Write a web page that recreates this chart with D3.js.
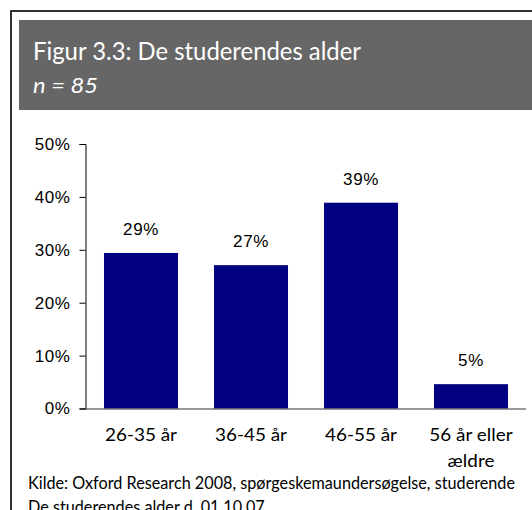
<!DOCTYPE html>
<html>
<head>
<meta charset="utf-8">
<script src="https://cdn.jsdelivr.net/npm/d3@7"></script>
<style>
  html, body { margin: 0; padding: 0; background: #ffffff; }
  svg { display: block; }
</style>
</head>
<body>
<svg id="chart" width="532" height="510"></svg>
<script>
// ---- data ----
const categories = ["26-35 år", "36-45 år", "46-55 år", "56 år eller ældre"];
const categoryLines = [["26-35 år"], ["36-45 år"], ["46-55 år"], ["56 år eller", "ældre"]];
const values = [29.4, 27.1, 38.9, 4.6];
const valueLabels = ["29%", "27%", "39%", "5%"];
const yTicks = [0, 10, 20, 30, 40, 50];
const titleText = "Figur 3.3: De studerendes alder";
const subtitleText = "n = 85";
const sourceLines = [
  "Kilde: Oxford Research 2008, spørgeskemaundersøgelse, studerende",
  "De studerendes alder d. 01.10.07"
];

// ---- drawing ----
const svg = d3.select("#chart");
const humanist = "Lato, 'Open Sans', 'DejaVu Sans', sans-serif";
const arial = "'Liberation Sans', Arial, sans-serif";

// horizontally condense a text node to a target width (Frutiger-like narrow look)
function condenseTo(node, target) {
  d3.select(node).attr("textLength", target).attr("lengthAdjust", "spacingAndGlyphs");
}

// outer frame
svg.append("rect")
  .attr("x", 11).attr("y", 11)
  .attr("width", 600).attr("height", 600)
  .attr("fill", "none").attr("stroke", "#000").attr("stroke-width", 1.6);

// header band
svg.append("rect")
  .attr("x", 19).attr("y", 20)
  .attr("width", 520).attr("height", 90)
  .attr("fill", "#666666");

const title = svg.append("text")
  .attr("x", 33).attr("y", 60)
  .attr("font-family", humanist).attr("font-size", 25)
  .attr("fill", "#ffffff")
  .text(titleText);
condenseTo(title.node(), 328);

const sub = svg.append("text")
  .attr("x", 33).attr("y", 93)
  .attr("font-family", humanist).attr("font-size", 21)
  .attr("font-style", "italic")
  .attr("fill", "#ffffff")
  .text(subtitleText);
condenseTo(sub.node(), 65);

// scales
const x = d3.scaleBand()
  .domain(categories)
  .range([86, 526])
  .paddingInner(0.327)
  .paddingOuter(0.1635);

const y = d3.scaleLinear()
  .domain([0, 50])
  .range([408.5, 144]);

// y axis
const yAxis = d3.axisLeft(y)
  .tickValues(yTicks)
  .tickSize(6)
  .tickPadding(9)
  .tickFormat(d => d + "%");

const gy = svg.append("g")
  .attr("transform", "translate(85.5,0)")
  .call(yAxis);
gy.select(".domain").attr("stroke", "#000").attr("stroke-width", 1);
gy.selectAll(".tick line").attr("stroke", "#000");
gy.selectAll(".tick text")
  .attr("font-family", arial)
  .attr("font-size", 17)
  .attr("letter-spacing", 0.6)
  .attr("fill", "#000");

// bars
svg.append("g").selectAll("rect")
  .data(values)
  .join("rect")
  .attr("x", (d, i) => x(categories[i]))
  .attr("y", d => y(d))
  .attr("width", x.bandwidth())
  .attr("height", d => y(0) - y(d))
  .attr("fill", "#000080");

// baseline (x axis line)
const gx = svg.append("g")
  .attr("transform", `translate(0,${y(0)})`)
  .call(d3.axisBottom(x).tickSize(0).tickFormat(""));
gx.select(".domain").attr("stroke", "#333").attr("stroke-width", 1)
  .attr("d", "M80,0.5H526");

// value labels
svg.append("g").selectAll("text")
  .data(values)
  .join("text")
  .attr("x", (d, i) => x(categories[i]) + x.bandwidth() / 2)
  .attr("y", d => y(d) - 18)
  .attr("text-anchor", "middle")
  .attr("font-family", arial)
  .attr("font-size", 17)
  .attr("letter-spacing", 0.6)
  .attr("fill", "#000")
  .text((d, i) => valueLabels[i]);

// category labels
const catG = svg.append("g");
const catSizePx = 18;
const probe = catG.append("text").attr("font-family", humanist).attr("font-size", catSizePx).text(categories[0]);
const catFactor = 72 / probe.node().getComputedTextLength();
probe.remove();
categories.forEach((d, i) => {
  const t = catG.append("text")
    .attr("text-anchor", "middle")
    .attr("font-family", humanist)
    .attr("font-size", catSizePx)
    .attr("fill", "#000");
  categoryLines[i].forEach((line, j) => {
    const ts = t.append("tspan")
      .attr("x", x(d) + x.bandwidth() / 2)
      .attr("y", 441 + j * 26)
      .text(line);
    const w = ts.node().getComputedTextLength();
    ts.attr("textLength", w * catFactor).attr("lengthAdjust", "spacingAndGlyphs");
  });
});

// source
const src = svg.append("g").selectAll("text")
  .data(sourceLines)
  .join("text")
  .attr("x", 28)
  .attr("y", (d, i) => 489 + i * 24)
  .attr("font-family", humanist)
  .attr("font-size", 16.5)
  .attr("fill", "#000")
  .text(d => d);
const srcFactor = 487 / src.nodes()[0].getComputedTextLength();
src.each(function() {
  condenseTo(this, this.getComputedTextLength() * srcFactor);
});
</script>
</body>
</html>
